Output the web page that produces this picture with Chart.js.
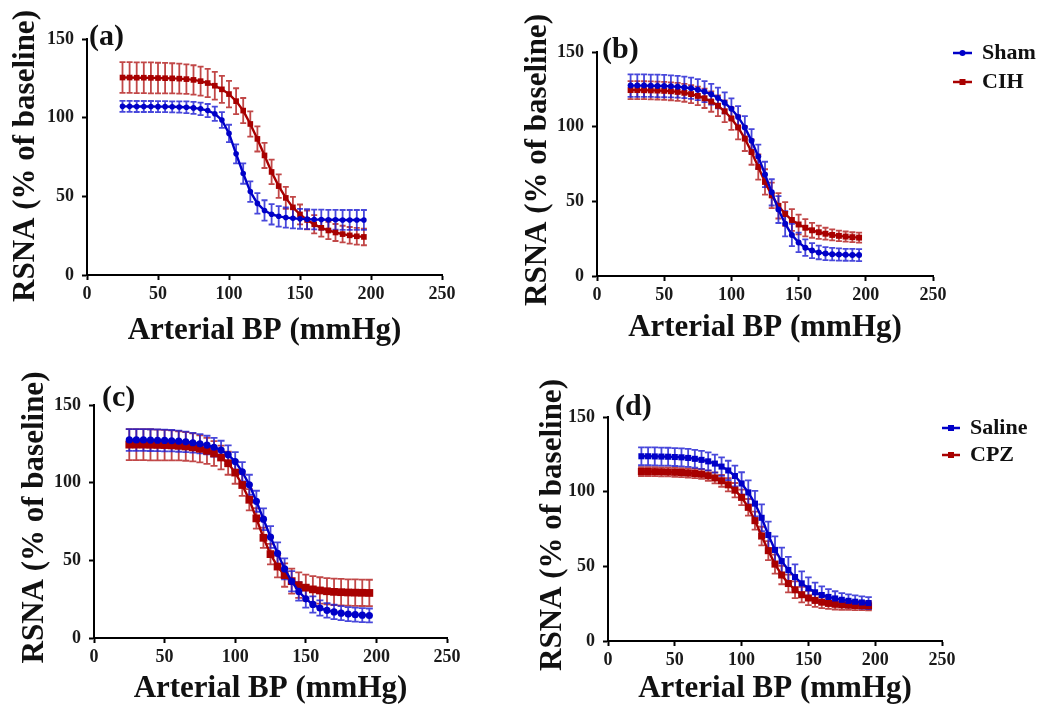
<!DOCTYPE html>
<html><head><meta charset="utf-8">
<script src="https://cdn.jsdelivr.net/npm/chart.js@4/dist/chart.umd.min.js"></script>
<style>
html,body{margin:0;padding:0;background:#fff;}
body{width:1048px;height:709px;position:relative;overflow:hidden;}
canvas{position:absolute;}
</style></head>
<body>
<canvas id="ca" width="472" height="349" style="left:0px;top:0px"></canvas>
<canvas id="cb" width="528" height="346" style="left:520px;top:0px"></canvas>
<canvas id="cc" width="477" height="347" style="left:0px;top:360px"></canvas>
<canvas id="cd" width="528" height="347" style="left:520px;top:360px"></canvas>
<script>
// Arterial BP (mmHg) sample points
const bp = [25,30,35,40,45,50,55,60,65,70,75,80,85,90,95,100,105,110,115,120,125,130,135,140,145,150,155,160,165,170,175,180,185,190,195];
const xTicks = [0,50,100,150,200,250];
const yTicks = [0,50,100,150];
const xTitle = 'Arterial BP (mmHg)';
const yTitle = 'RSNA (% of baseline)';

// Panel (a)
const aSham    = [107.2,107.2,107.1,107.1,107.1,107,107,106.9,106.8,106.6,106.2,105.6,104.5,102.5,98.5,90,77,64.5,53,45.5,41,38.6,37.3,36.5,36,35.7,35.5,35.3,35.2,35.1,35.1,35,35,35,35];
const aShamErr = [3.5,3.5,3.5,3.5,3.5,3.5,3.5,3.5,3.6,3.7,3.8,4,4.2,4.5,5,5.5,6,6.5,6.5,6.5,6.5,6.5,6.5,6.4,6.4,6.3,6.3,6.3,6.3,6.3,6.3,6.3,6.3,6.3,6.3];
const aCIH     = [125.5,125.5,125.4,125.4,125.3,125.2,125.1,125,124.8,124.5,124,123.2,122,120.3,118,115,110.5,104.5,96,86.5,76,65.5,56.5,49,43,38.5,35,32.2,30,28.3,27,26,25.2,24.6,24.2];
const aCIHErr  = [9.8,9.8,9.8,9.8,9.8,9.7,9.7,9.6,9.5,9.4,9.3,9.2,9,8.8,8.6,8.4,8.2,8,8,8,8,7.8,7.5,7,6.6,6.3,6,5.8,5.6,5.5,5.4,5.3,5.3,5.3,5.3];

// Panel (b)
const bSham    = [127.5,127.5,127.5,127.4,127.3,127.2,127,126.7,126.3,125.7,124.8,123.5,121.7,119.2,116,112,106.5,99.5,90.5,80,68,56,44.5,35,27.5,22.5,19,17,15.8,15,14.6,14.4,14.2,14.1,14];
const bShamErr = [7.5,7.5,7.5,7.5,7.5,7.5,7.4,7.3,7.2,7.1,7,7,7,7,7,7,7.2,7.5,7.8,8,8.5,8.8,9,8.5,7.5,6.5,5.5,5,4.6,4.4,4.2,4.1,4,4,4];
const bCIH     = [124.5,124.5,124.4,124.3,124.2,124,123.7,123.3,122.7,121.8,120.6,119,116.8,114,110.3,105.5,99.5,92,83,73,63,54,47,41.5,37.5,34.5,32.3,30.6,29.3,28.3,27.5,26.9,26.4,26,25.7];
const bCIHErr  = [6,6,6,6,6,6,6,6,6,6,6.2,6.5,6.8,7,7.3,7.6,8,8.3,8.5,8.5,8.5,8.5,8.5,8,7.3,6.6,5.8,5,4.4,4,3.7,3.5,3.4,3.3,3.3];

// Panel (c)
const cSaline    = [127.5,127.5,127.5,127.4,127.3,127.2,127,126.7,126.3,125.7,125,124.2,122.8,121,118,113.6,107,98.6,88,76.5,65,54.5,44.5,36.5,30,25.2,21.6,19.3,17.8,16.8,16,15.4,15,14.7,14.5];
const cSalineErr = [7,7,7,7,7,7,6.9,6.8,6.6,6.4,6.2,6,6,6,6,6,6.2,6.5,6.8,7,7,7,6.8,6.5,6,5.6,5.2,4.9,4.7,4.6,4.5,4.5,4.5,4.5,4.5];
const cCPZ       = [124.5,124.5,124.5,124.4,124.3,124.2,124,123.7,123.3,122.7,121.8,120.5,118.8,116.2,112.5,106.5,98.5,89,77,64.5,54,46,40.5,36.6,34,32.4,31.3,30.6,30.1,29.7,29.5,29.3,29.2,29.1,29];
const cCPZErr    = [10,10,10,10,9.9,9.8,9.6,9.4,9.2,9,8.7,8.4,8,7.7,7.4,7.2,7,6.8,6.6,6.5,6.6,7,7.5,8,8.2,8.4,8.5,8.5,8.5,8.5,8.5,8.5,8.5,8.5,8.5];

// Panel (d)
const dSaline    = [123.7,123.7,123.6,123.5,123.4,123.2,123,122.6,122,121.3,120.3,118.8,116.8,114.2,110.5,105.5,99.5,92,82.5,71,61,53.5,47.5,42.8,38.6,35.3,32.6,30.8,29.5,28.5,27.6,26.9,26.3,25.8,25.4];
const dSalineErr = [6,6,6,6,6,6,6,6,6,6,6,6,6.2,6.5,7,7.5,8,8.5,9,9,9,9,8.8,8.5,8,7.3,6.5,5.8,5.2,4.8,4.5,4.3,4.2,4.1,4];
const dCPZ       = [113.5,113.5,113.4,113.3,113.2,113,112.8,112.5,112.2,111.7,110.7,109.2,107.3,104.6,101,96.2,89.5,80.6,70.3,60.5,51.5,44.2,38.5,34.3,31,28.8,27.2,26,25.2,24.6,24.2,24,23.8,23.7,23.6];
const dCPZErr    = [3,3,3,3,3,3,3,3,3.1,3.2,3.4,3.7,4,4.4,4.8,5.2,5.6,6,6.2,6.4,6.4,6.2,6,5.6,5.2,4.8,4.4,4,3.7,3.5,3.3,3.2,3.1,3,3];

const BLUE = '#0000C8', BLUE_ERR = 'rgba(25,25,210,0.8)';
const RED = '#A80000', RED_ERR = 'rgba(178,25,25,0.8)';
const SERIF = "'Liberation Serif','Times New Roman',serif";

function pts(xs, ys){ return xs.map((x,i)=>({x:x, y:ys[i]})); }

const errorBars = {
  id:'errorBars',
  beforeDatasetsDraw(chart){
    const ctx = chart.ctx, xs = chart.scales.x, ys = chart.scales.y;
    const dss = chart.data.datasets;
    for (let k = dss.length-1; k >= 0; k--) {
      const ds = dss[k];
      if (!ds.errors) continue;
      ctx.save();
      ctx.strokeStyle = ds.errorColor;
      ctx.lineWidth = 1.8;
      const c = ds.capHalf;
      ds.data.forEach((p,j)=>{
        const e = ds.errors[j];
        const x = xs.getPixelForValue(p.x);
        const y1 = ys.getPixelForValue(p.y + e), y2 = ys.getPixelForValue(p.y - e);
        ctx.beginPath();
        ctx.moveTo(x,y1); ctx.lineTo(x,y2);
        ctx.moveTo(x-c,y1); ctx.lineTo(x+c,y1);
        ctx.moveTo(x-c,y2); ctx.lineTo(x+c,y2);
        ctx.stroke();
      });
      ctx.restore();
    }
  }
};

const decor = {
  id:'decor',
  afterDraw(chart, args, opts){
    const ctx = chart.ctx, ca = chart.chartArea;
    ctx.save();
    ctx.fillStyle = '#111';
    ctx.textBaseline = 'middle';
    ctx.font = "bold 31px " + SERIF;
    ctx.textAlign = 'center';
    ctx.fillText(xTitle, (ca.left + ca.right)/2, opts.xtY);
    ctx.save();
    ctx.translate(opts.ytX, (ca.top + ca.bottom)/2 + opts.ytDy);
    ctx.rotate(-Math.PI/2);
    ctx.fillText(yTitle, 0, 0);
    ctx.restore();
    ctx.font = "bold 30px " + SERIF;
    ctx.textAlign = 'left';
    ctx.fillText(opts.label, opts.labelX, opts.labelY);
    if (opts.legend) {
      const dss = chart.data.datasets;
      ctx.font = "bold 22px " + SERIF;
      dss.forEach((ds,i)=>{
        const y = opts.legendY + i*opts.legendGap;
        ctx.strokeStyle = ds.borderColor; ctx.lineWidth = 2.5;
        ctx.beginPath(); ctx.moveTo(opts.legendX, y); ctx.lineTo(opts.legendX + opts.lineLen, y); ctx.stroke();
        ctx.fillStyle = ds.borderColor;
        const cx = opts.legendX + opts.lineLen/2;
        if (ds.pointStyle === 'rect') { ctx.fillRect(cx-3, y-3, 6, 6); }
        else { ctx.beginPath(); ctx.arc(cx, y, 3, 0, Math.PI*2); ctx.fill(); }
        ctx.fillStyle = '#111';
        ctx.fillText(ds.label, opts.legendX + opts.lineLen + opts.textGap, y);
      });
    }
    ctx.restore();
  }
};

function makeChart(id, cfg){
  const datasets = cfg.series.map(s=>({
    label: s.label,
    data: pts(bp, s.values),
    errors: s.errors,
    errorColor: s.errColor,
    capHalf: s.cap,
    borderColor: s.color,
    backgroundColor: s.color,
    borderWidth: 2.4,
    pointStyle: s.marker,
    pointRadius: s.size,
    pointBorderWidth: 0,
    showLine: true,
    tension: 0
  }));
  return new Chart(document.getElementById(id), {
    type:'scatter',
    data:{datasets},
    plugins:[errorBars, decor],
    options:{
      responsive:false, animation:false, devicePixelRatio:1,
      layout:{padding:{left:0, top:cfg.padTop, right:cfg.padRight, bottom:0}},
      plugins:{
        legend:{display:false}, tooltip:{enabled:false},
        decor: cfg.decor
      },
      scales:{
        x:{
          type:'linear', min:xTicks[0], max:xTicks[xTicks.length-1],
          afterBuildTicks(s){ s.ticks = xTicks.map(v=>({value:v})); },
          afterFit(s){ s.height = cfg.xh; },
          grid:{drawOnChartArea:false, drawTicks:true, tickLength:5, tickWidth:2, tickColor:'#000'},
          border:{display:true, color:'#000', width:2},
          ticks:{font:{family:SERIF, size:18, weight:'bold'}, color:'#1a1a1a', padding:4, maxRotation:0}
        },
        y:{
          type:'linear', min:yTicks[0], max:yTicks[yTicks.length-1],
          afterBuildTicks(s){ s.ticks = yTicks.map(v=>({value:v})); },
          afterFit(s){ s.width = cfg.yw; },
          grid:{drawOnChartArea:false, drawTicks:true, tickLength:5, tickWidth:2, tickColor:'#000'},
          border:{display:true, color:'#000', width:2},
          ticks:{font:{family:SERIF, size:18, weight:'bold'}, color:'#1a1a1a', padding:8}
        }
      }
    }
  });
}

makeChart('ca', {
  yw:87, xh:74, padTop:39, padRight:30,
  series:[
    {label:'Sham', values:aSham, errors:aShamErr, color:BLUE, errColor:BLUE_ERR, marker:'circle', size:2.8, cap:3},
    {label:'CIH', values:aCIH, errors:aCIHErr, color:RED, errColor:RED_ERR, marker:'rect', size:4, cap:3}
  ],
  decor:{label:'(a)', labelX:89, labelY:37, xtY:331, ytX:26, ytDy:-1}
});
makeChart('cb', {
  yw:77, xh:70, padTop:52, padRight:115,
  series:[
    {label:'Sham', values:bSham, errors:bShamErr, color:BLUE, errColor:BLUE_ERR, marker:'circle', size:3, cap:3},
    {label:'CIH', values:bCIH, errors:bCIHErr, color:RED, errColor:RED_ERR, marker:'rect', size:4.2, cap:3}
  ],
  decor:{label:'(b)', labelX:82, labelY:50, xtY:328, ytX:18, ytDy:-4, legend:true, legendX:433, legendY:53, legendGap:29, lineLen:19, textGap:10}
});
makeChart('cc', {
  yw:94, xh:69, padTop:45, padRight:30,
  series:[
    {label:'Saline', values:cSaline, errors:cSalineErr, color:BLUE, errColor:BLUE_ERR, marker:'circle', size:3.6, cap:3.5},
    {label:'CPZ', values:cCPZ, errors:cCPZErr, color:RED, errColor:RED_ERR, marker:'rect', size:5.5, cap:3.5}
  ],
  decor:{label:'(c)', labelX:102, labelY:38, xtY:329, ytX:35, ytDy:-4}
});
makeChart('cd', {
  yw:88, xh:66, padTop:57, padRight:106,
  series:[
    {label:'Saline', values:dSaline, errors:dSalineErr, color:BLUE, errColor:BLUE_ERR, marker:'rect', size:4.3, cap:3.3},
    {label:'CPZ', values:dCPZ, errors:dCPZErr, color:RED, errColor:RED_ERR, marker:'rect', size:5, cap:3.3}
  ],
  decor:{label:'(d)', labelX:95, labelY:47, xtY:329, ytX:33, ytDy:-4, legend:true, legendX:422, legendY:68, legendGap:27, lineLen:18, textGap:10}
});
</script>
</body></html>
